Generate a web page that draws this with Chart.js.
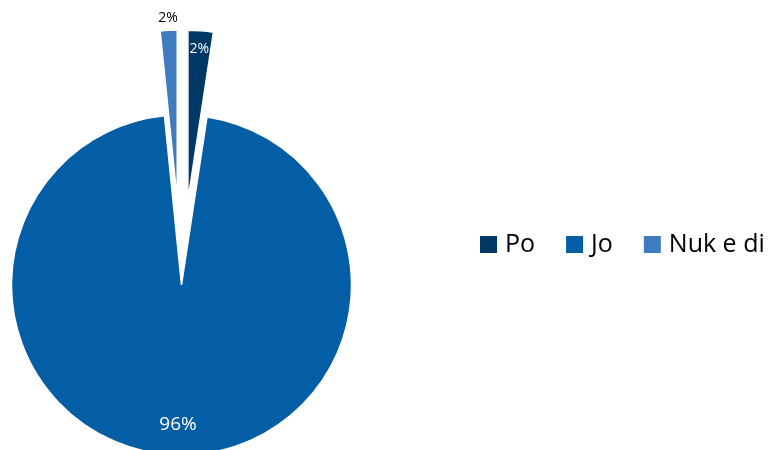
<!DOCTYPE html>
<html lang="sq">
<head>
<meta charset="UTF-8">
<title>Po / Jo / Nuk e di</title>
<script src="https://cdn.jsdelivr.net/npm/chart.js"></script>
<style>
  body { margin: 0; background: #fff; }
  #wrap { position: relative; width: 775px; height: 450px; }
</style>
</head>
<body>
<div id="wrap"><canvas id="pieChart"></canvas></div>
<script>
const labels = ['Po', 'Jo', 'Nuk e di'];
const shares = [2.4, 96.0, 1.6];
const colors = ['#003865', '#035ea5', '#3e7cbf'];

// the two small answers are pulled out of the pie (px along the mid angle)
const explode = [85, 0, 85];
// percentage text: distance from slice tip (share of radius), colour, size
const labelRadius = [0.895, 0.82, 1.07];
const labelColors = ['#ffffff', '#ffffff', '#000000'];
const labelSizes = [14, 19, 14];

// Chart.js "offset" also grows the slice, so shift each arc ourselves instead
const explodedArcs = {
  id: 'explodedArcs',
  beforeDatasetDraw(chart, args) {
    const ctx = chart.ctx;
    args.meta.data.forEach((arc, i) => {
      const mid = (arc.startAngle + arc.endAngle) / 2;
      ctx.save();
      ctx.translate(Math.cos(mid) * explode[i], Math.sin(mid) * explode[i]);
      arc.draw(ctx);
      ctx.restore();
    });
    return false;
  }
};

const percentLabels = {
  id: 'percentLabels',
  afterDatasetsDraw(chart) {
    const ctx = chart.ctx;
    const meta = chart.getDatasetMeta(0);
    const total = shares.reduce((a, b) => a + b, 0);
    ctx.save();
    ctx.textAlign = 'center';
    ctx.textBaseline = 'middle';
    meta.data.forEach((arc, i) => {
      const mid = (arc.startAngle + arc.endAngle) / 2;
      const r = explode[i] + arc.outerRadius * labelRadius[i];
      ctx.font = labelSizes[i] + 'px "Open Sans"';
      ctx.fillStyle = labelColors[i];
      ctx.fillText(Math.round(shares[i] / total * 100) + '%',
        arc.x + Math.cos(mid) * r, arc.y + Math.sin(mid) * r);
    });
    ctx.restore();
  }
};

// one-row legend to the right of the pie
const sideLegend = {
  id: 'sideLegend',
  afterDraw(chart) {
    const ctx = chart.ctx;
    let x = 480;
    const y = 244.5;
    ctx.save();
    ctx.font = '25px "Open Sans"';
    ctx.textBaseline = 'middle';
    labels.forEach((name, i) => {
      ctx.fillStyle = colors[i];
      ctx.fillRect(x, y - 8.5, 17, 17);
      ctx.fillStyle = '#000';
      ctx.fillText(name, x + 25, y);
      x += 25 + ctx.measureText(name).width + 31;
    });
    ctx.restore();
  }
};

new Chart(document.getElementById('pieChart'), {
  type: 'pie',
  data: {
    labels: labels,
    datasets: [{
      data: shares,
      backgroundColor: colors,
      borderColor: '#ffffff',
      borderWidth: 1.5,
      hoverOffset: 0,
      clip: false
    }]
  },
  options: {
    responsive: true,
    maintainAspectRatio: false,
    animation: false,
    radius: 170,
    layout: { padding: { left: 0, right: 412, top: 120, bottom: 0 } },
    events: [],
    plugins: {
      legend: { display: false },
      tooltip: { enabled: false }
    }
  },
  plugins: [explodedArcs, percentLabels, sideLegend]
});
</script>
</body>
</html>
